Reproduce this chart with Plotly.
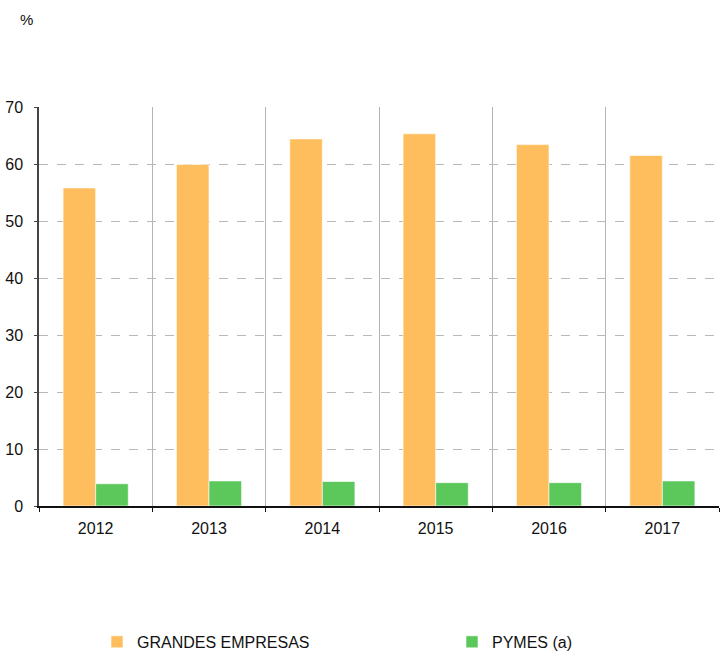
import plotly.graph_objects as go

years = ["2012", "2013", "2014", "2015", "2016", "2017"]
grandes = [55.8, 59.9, 64.4, 65.3, 63.4, 61.5]
pymes = [3.9, 4.4, 4.3, 4.1, 4.1, 4.4]
series_names = ["GRANDES EMPRESAS", "PYMES (a)"]
colors = ["#FFBE5E", "#5CC85C"]
legend_ids = ["legend", "legend2"]

FONT = "Liberation Sans, Arial, sans-serif"

fig = go.Figure()
for name, vals, col, lg in zip(series_names, [grandes, pymes], colors, legend_ids):
    fig.add_trace(go.Bar(
        x=years, y=vals, name=name, legend=lg,
        marker=dict(color=col, line=dict(color="rgba(255,255,255,0.6)", width=1)),
    ))

legend_common = dict(
    orientation="h", xref="container", yref="container",
    y=0.017, xanchor="left", yanchor="middle",
    font=dict(size=16, color="#111111", family=FONT),
    bgcolor="rgba(0,0,0,0)", itemclick=False, itemdoubleclick=False,
)

fig.update_layout(
    width=721, height=653,
    margin=dict(l=39, r=2, t=107, b=147, pad=0, autoexpand=False),
    paper_bgcolor="white", plot_bgcolor="white",
    barmode="group", bargap=0.425, bargroupgap=0,
    font=dict(family=FONT, size=16, color="#111111"),
    showlegend=True,
    legend=dict(x=97 / 721, **legend_common),
    legend2=dict(x=452 / 721, **legend_common),
    annotations=[dict(
        text="%", xref="paper", yref="paper", x=-21 / 680, y=1 + 87 / 399,
        xanchor="left", yanchor="middle", showarrow=False,
        font=dict(size=15, color="#111111", family=FONT),
    )],
)

fig.update_xaxes(
    type="category", tickson="boundaries", automargin=False,
    showgrid=True, gridcolor="#B4B4B4", gridwidth=1,
    showline=True, linecolor="#111111", linewidth=1.5,
    ticks="outside", ticklen=4, tickcolor="#111111",
    ticklabelstandoff=7,
    tickfont=dict(size=16, color="#111111"),
)
fig.update_yaxes(
    range=[0, 70], dtick=10, tick0=0, automargin=False,
    showgrid=True, gridcolor="#B8B8B8", griddash="dash", gridwidth=1,
    showline=True, linecolor="#444444", linewidth=1.5,
    ticks="outside", ticklen=3, tickcolor="#444444",
    ticklabelstandoff=8,
    zeroline=False,
    tickfont=dict(size=16, color="#111111"),
)

fig.write_html(
    "out.html",
    config={"displayModeBar": False},
    post_script="document.body.style.margin='0';document.body.style.overflow='hidden';",
)
